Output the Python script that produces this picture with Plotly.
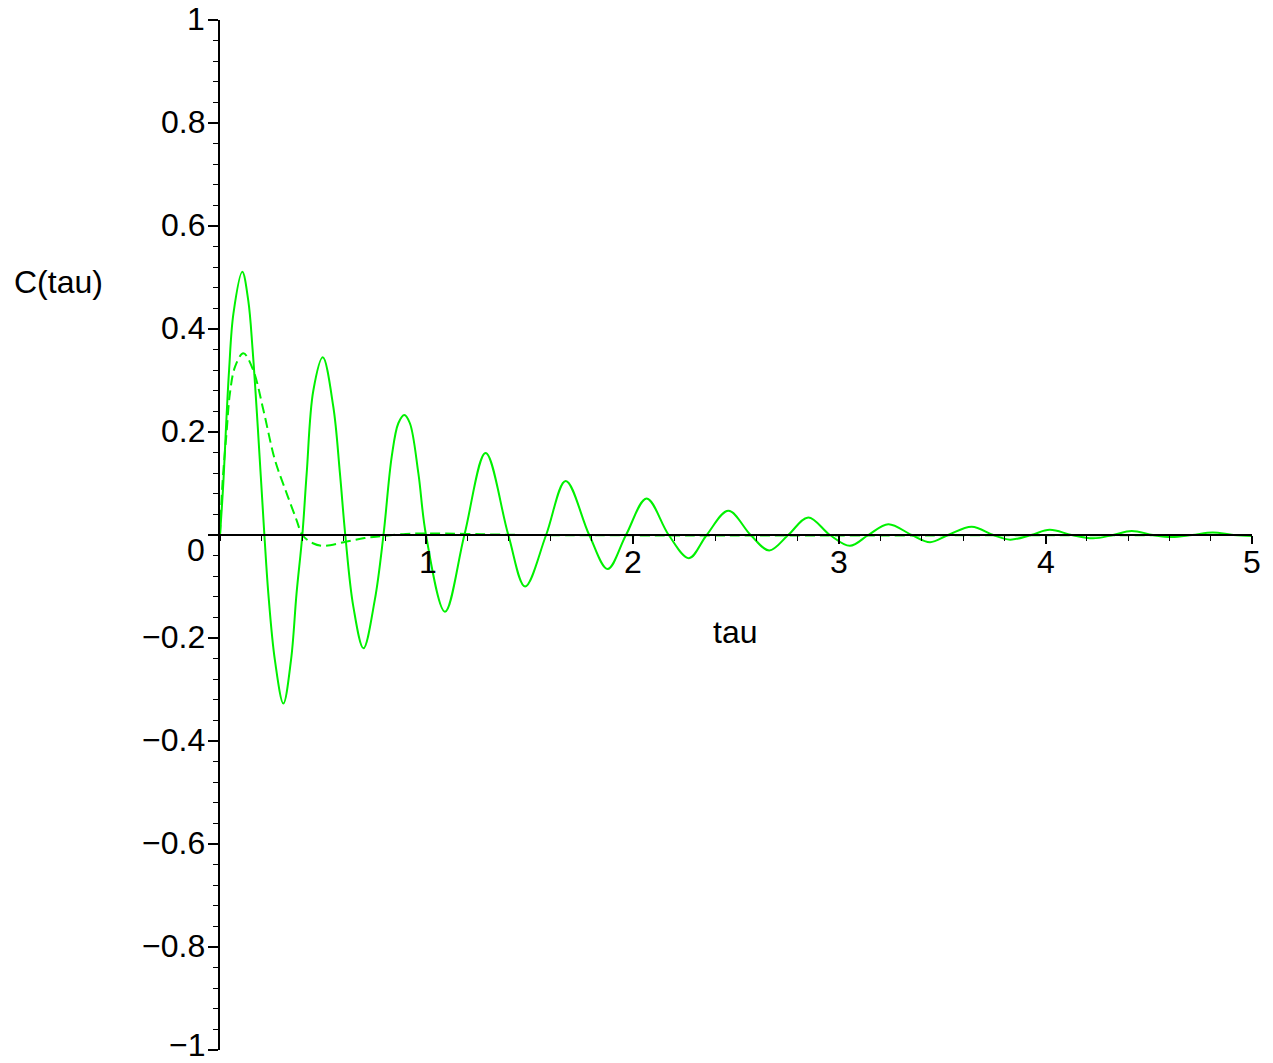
import plotly.graph_objects as go

# Correlation function C(tau): oscillating curve (solid) and the
# overdamped companion (dashed), sampled at the drawn vertices.
tau_osc = [0, 0.016, 0.028, 0.044, 0.065, 0.108, 0.137, 0.158, 0.183, 0.215,
           0.234, 0.266, 0.307, 0.344, 0.371, 0.399, 0.42, 0.452, 0.498, 0.549,
           0.581, 0.607, 0.646, 0.695, 0.75, 0.792, 0.832, 0.864, 0.893, 0.92,
           0.961, 0.998, 1.09, 1.184, 1.287, 1.397, 1.478, 1.58, 1.675, 1.789,
           1.878, 1.967, 2.067, 2.174, 2.272, 2.358, 2.463, 2.571, 2.661, 2.753,
           2.85, 2.955, 3.052, 3.141, 3.238, 3.351, 3.44, 3.528, 3.642, 3.747,
           3.828, 3.93, 4.02, 4.126, 4.23, 4.327, 4.417, 4.52, 4.61, 4.71,
           4.81, 4.91, 5.0]
c_osc = [0, 0.10, 0.20, 0.32, 0.43, 0.511, 0.455, 0.36, 0.21, 0,
         -0.113, -0.243, -0.327, -0.243, -0.113, 0, 0.12, 0.28, 0.345, 0.249,
         0.12, 0, -0.139, -0.22, -0.126, 0, 0.152, 0.217, 0.233, 0.217,
         0.12, 0, -0.149, 0, 0.159, 0, -0.100, 0, 0.105, 0,
         -0.066, 0, 0.071, 0, -0.045, 0, 0.047, 0, -0.030, 0,
         0.034, 0, -0.021, 0, 0.021, 0, -0.014, 0, 0.016, 0,
         -0.009, 0, 0.010, 0, -0.0065, 0, 0.008, 0, -0.004, 0,
         0.005, 0, -0.002]

tau_damp = [0, 0.012, 0.032, 0.048, 0.073, 0.113, 0.161, 0.21, 0.266, 0.323,
            0.371, 0.399, 0.45, 0.5, 0.6, 0.7, 0.79, 0.9, 1.0, 1.2, 1.5, 5.0]
c_damp = [0, 0.10, 0.20, 0.275, 0.327, 0.353, 0.32, 0.243, 0.146, 0.081,
          0.029, 0.0, -0.016, -0.021, -0.014, -0.006, -0.002, 0.002, 0.003, 0.002,
          0.0, 0.0]

x_ticks = [1, 2, 3, 4, 5]
x_tick_text = ["1", "2", "3", "4", "5"]
y_ticks = [-1, -0.8, -0.6, -0.4, -0.2, 0, 0.2, 0.4, 0.6, 0.8, 1]
y_tick_text = ["\u22121", "\u22120.8", "\u22120.6", "\u22120.4", "\u22120.2", "0",
               "0.2", "0.4", "0.6", "0.8", "1"]

FONT = "Liberation Sans, Arial, Helvetica, sans-serif"
FSIZE = 32
GREEN = "#00F000"

fig = go.Figure()
fig.add_trace(go.Scatter(x=tau_damp, y=c_damp, mode="lines",
                         line=dict(color=GREEN, width=2, dash="10px,5px",
                                   shape="spline", smoothing=1.0),
                         showlegend=False))
fig.add_trace(go.Scatter(x=tau_osc, y=c_osc, mode="lines",
                         line=dict(color=GREEN, width=2,
                                   shape="spline", smoothing=1.0),
                         showlegend=False))

annotations = []
# x tick labels sit just below the axis line through y = 0
for v, t in zip(x_ticks, x_tick_text):
    annotations.append(dict(text=t, x=v, xref="x", y=0, yref="y",
                            xanchor="center", yanchor="middle", yshift=-27,
                            xshift=2 if v == 1 else 0,
                            showarrow=False, font=dict(size=FSIZE)))
# y tick labels, right aligned against the ticks; "0" drops below the x axis
# and the bottom label is nudged up so it stays inside the page
for v, t in zip(y_ticks, y_tick_text):
    if v == 0:
        dy = -15
    elif v == -1:
        dy = 5
    else:
        dy = 1
    annotations.append(dict(text=t, x=0, xref="paper", y=v, yref="y",
                            xanchor="right", yanchor="middle",
                            xshift=-13, yshift=dy,
                            showarrow=False, font=dict(size=FSIZE)))
annotations.append(dict(text="C(tau)", x=-(220 - 58) / 1032, xref="paper",
                        y=0.492, yref="y", xanchor="center", yanchor="middle",
                        showarrow=False, font=dict(size=FSIZE)))
annotations.append(dict(text="tau", x=2.495, xref="x", y=-0.188, yref="y",
                        xanchor="center", yanchor="middle",
                        showarrow=False, font=dict(size=FSIZE)))

fig.update_layout(
    width=1273, height=1063,
    margin=dict(l=220, r=21, t=20, b=13, autoexpand=False),
    paper_bgcolor="white", plot_bgcolor="white",
    font=dict(family=FONT, size=FSIZE, color="black"),
    showlegend=False,
    xaxis=dict(range=[0, 5], anchor="free", position=0.5, automargin=False,
               showline=True, linecolor="black", linewidth=2,
               showgrid=False, zeroline=False, showticklabels=False,
               tickvals=x_ticks, ticks="outside", ticklen=8, tickwidth=1.5,
               tickcolor="black",
               minor=dict(dtick=0.2, tick0=0, ticks="outside", ticklen=5,
                          tickwidth=1, tickcolor="black", showgrid=False)),
    yaxis=dict(range=[-1, 1], automargin=False,
               showline=True, linecolor="black", linewidth=1.5,
               showgrid=False, zeroline=False, showticklabels=False,
               tickvals=y_ticks,
               ticks="outside", ticklen=10, tickwidth=1.5, tickcolor="black",
               minor=dict(dtick=0.04, tick0=0, ticks="outside", ticklen=5,
                          tickwidth=1, tickcolor="black", showgrid=False)),
    annotations=annotations,
)

fig.write_html("out.html")
